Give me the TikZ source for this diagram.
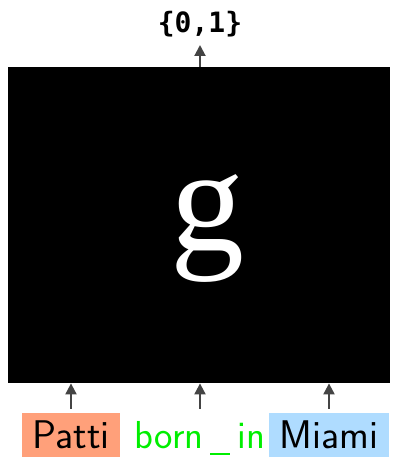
\documentclass[tikz,border=0pt]{standalone}
\usepackage{fontspec}
\usetikzlibrary{arrows.meta}
\newfontfamily\gfont{Liberation Serif}
\newfontfamily\monob{DejaVu Sans Mono}
\definecolor{salmonbox}{RGB}{255,160,122}
\definecolor{bluebox}{RGB}{175,220,255}
\definecolor{relgreen}{RGB}{0,238,0}
\definecolor{arrgray}{RGB}{68,68,68}
\begin{document}
\begin{tikzpicture}[x=1pt,y=-1pt,
  arr/.style={-{Triangle[length=11pt,width=11pt]}, draw=arrgray, line width=2pt},
  lab/.style={font=\sffamily\fontsize{40}{40}\selectfont, text height=27pt, text depth=1pt, inner ysep=8pt, inner xsep=0pt, anchor=base}]
\useasboundingbox (0,0) rectangle (393,457);
\node[fill=black, minimum width=382pt, minimum height=316pt, inner sep=0pt, anchor=north west] (box) at (8,67) {};
\node[anchor=base, text=white, font=\gfont\fontsize{148}{148}\selectfont, inner sep=0pt] (glyph) at (207,250) {g};
\node[anchor=base, font=\monob\bfseries\fontsize{28}{28}\selectfont, inner sep=0pt] (out) at (200,33) {\{0,1\}};
\coordinate (top) at (200,45);
\draw[arr] (box.north -| top) -- (top);
\node[lab, fill=salmonbox, minimum width=98pt] (patti) at (71,448) {Patti};
\node[lab, text=relgreen, font=\sffamily\fontsize{39}{39}\selectfont] (born) at (200,448) {born\hspace{7pt}\rule[-7pt]{20pt}{2pt}\hspace{7pt}in};
\node[lab, fill=bluebox, minimum width=120pt] (miami) at (329,448) {Miami};
\draw[arr, shorten <=4pt] (patti.north) -- (patti.north |- box.south);
\draw[arr, shorten <=4pt] (born.north) -- (born.north |- box.south);
\draw[arr, shorten <=4pt] (miami.north) -- (miami.north |- box.south);
\end{tikzpicture}
\end{document}
